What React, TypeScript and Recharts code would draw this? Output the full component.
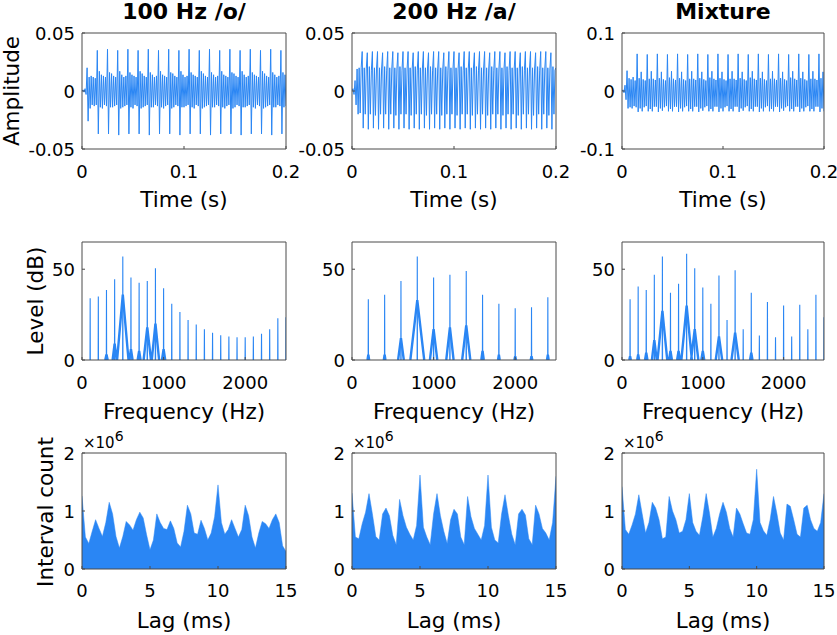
import React from 'react';
import { ComposedChart, Line, Area, XAxis, YAxis } from 'recharts';

const BLUE = '#2a86f4';
const AXIS_COLOR = '#4a4a4a';
const FONT = '"DejaVu Sans", Verdana, sans-serif';

const titles = ['100 Hz /o/', '200 Hz /a/', 'Mixture'];
const xLabels = ['Time (s)', 'Frequency (Hz)', 'Lag (ms)'];
const yLabels = ['Amplitude', 'Level (dB)', 'Interval count'];

// ---------- Row 1: waveforms (1 ms sample grid, amplitudes in thousandths) ----------
const wave100o = [
  0, 1, -1, 2, -3, 20, -26, 12, -15, 13, -12, 12, -13, 11, -12,
  35, -37, 17, -14, 14, -15, 13, -12, 12, -13,
  36, -37, 16, -14, 15, -14, 13, -13, 12, -12,
  35, -38, 17, -15, 14, -14, 12, -13, 13, -12,
  36, -37, 16, -14, 14, -15, 13, -12, 12, -13,
  35, -37, 17, -15, 15, -14, 13, -13, 12, -12,
  36, -38, 16, -14, 14, -14, 12, -12, 13, -13,
  35, -37, 17, -14, 14, -15, 13, -13, 12, -12,
  36, -37, 16, -15, 15, -14, 13, -12, 12, -13,
  35, -38, 17, -14, 14, -14, 12, -13, 13, -12,
  36, -37, 16, -14, 14, -15, 13, -12, 12, -13,
  35, -37, 17, -15, 15, -14, 13, -13, 12, -12,
  36, -38, 16, -14, 14, -14, 12, -12, 13, -13,
  35, -37, 17, -14, 14, -15, 13, -13, 12, -12,
  36, -37, 16, -15, 15, -14, 13, -12, 12, -13,
  35, -38, 17, -14, 14, -14, 12, -13, 13, -12,
  36, -37, 16, -14, 14, -15, 13, -12, 12, -13,
  35, -37, 17, -15, 15, -14, 13, -13, 12, -12,
  36, -38, 16, -14, 14, -14, 12, -12, 13, -13,
  35, -37, 16, -14, 14, -13,
];

const wave200a = [
  0, 2, -3, 9, -12, 19, -20, 20, -19, 20,
  34, -32, 20, -20, 19, 33, -33, 21, -20, 18,
  34, -32, 20, -21, 19, 34, -33, 20, -20, 19,
  33, -32, 21, -20, 18, 34, -33, 20, -20, 19,
  34, -32, 20, -21, 19, 33, -33, 21, -20, 18,
  34, -32, 20, -20, 19, 34, -33, 20, -21, 19,
  33, -32, 21, -20, 18, 34, -33, 20, -20, 19,
  34, -32, 20, -21, 19, 33, -33, 21, -20, 18,
  34, -32, 20, -20, 19, 34, -33, 20, -21, 19,
  33, -32, 21, -20, 18, 34, -33, 20, -20, 19,
  34, -32, 20, -21, 19, 33, -33, 21, -20, 18,
  34, -32, 20, -20, 19, 34, -33, 20, -21, 19,
  33, -32, 21, -20, 18, 34, -33, 20, -20, 19,
  34, -32, 20, -21, 19, 33, -33, 21, -20, 18,
  34, -32, 20, -20, 19, 34, -33, 20, -21, 19,
  33, -32, 21, -20, 18, 34, -33, 20, -20, 19,
  34, -32, 20, -21, 19, 33, -33, 21, -20, 18,
  34, -32, 20, -20, 19, 34, -33, 20, -21, 19,
  33, -32, 21, -20, 18, 34, -33, 20, -20, 19,
  34, -32, 20, -21, 19, 33, -33, 21, -20, 18,
  20,
];

const waveMix = [
  0, 2, -3, 10, -15, 35, -30, 22, -28, 20, -30, 24, -26, 18, -28,
  64, -36, 22, -30, 33, -35, 20, -28, 18, -26,
  63, -35, 21, -31, 34, -35, 21, -27, 19, -27,
  64, -36, 22, -30, 33, -34, 20, -28, 18, -26,
  63, -35, 23, -31, 34, -35, 21, -27, 19, -27,
  64, -36, 22, -30, 33, -35, 20, -28, 18, -26,
  63, -35, 21, -31, 34, -35, 21, -27, 19, -27,
  64, -36, 22, -30, 33, -34, 20, -28, 18, -26,
  63, -35, 23, -31, 34, -35, 21, -27, 19, -27,
  64, -36, 22, -30, 33, -35, 20, -28, 18, -26,
  63, -35, 21, -31, 34, -35, 21, -27, 19, -27,
  64, -36, 22, -30, 33, -34, 20, -28, 18, -26,
  63, -35, 23, -31, 34, -35, 21, -27, 19, -27,
  64, -36, 22, -30, 33, -35, 20, -28, 18, -26,
  63, -35, 21, -31, 34, -35, 21, -27, 19, -27,
  64, -36, 22, -30, 33, -34, 20, -28, 18, -26,
  63, -35, 23, -31, 34, -35, 21, -27, 19, -27,
  64, -36, 22, -30, 33, -35, 20, -28, 18, -26,
  63, -35, 21, -31, 34, -35, 21, -27, 19, -27,
  64, -36, 22, -30, 33, -35,
];

const timeTicks = [0, 0.1, 0.2];
const ampTicksSmall = [-0.05, 0, 0.05];
const ampTicksMix = [-0.1, 0, 0.1];

// ---------- Row 2: spectra (dB) ----------
const harmonics100 = [100, 200, 300, 400, 500, 600, 700, 800, 900, 1000, 1100, 1200, 1300, 1400, 1500, 1600, 1700, 1800, 1900, 2000, 2100, 2200, 2300, 2400, 2500];
const harmonics200 = [200, 400, 600, 800, 1000, 1200, 1400, 1600, 1800, 2000, 2200, 2400];

const levels100o = [34, 35, 38.5, 44.5, 57, 45.5, 42.5, 43.5, 50.5, 39.5, 31, 26.5, 22, 19.5, 17, 15, 13.7, 13, 12.5, 12.5, 13, 14.5, 17, 23, 23.5];
const levels200a = [33.5, 36, 43.5, 57, 45.5, 47, 49, 36, 31, 28.5, 29, 34.5];
const levelsMix = [33.5, 40.5, 38.5, 47, 57, 37, 42, 58.5, 50.5, 40, 31, 46.5, 22, 49.5, 17, 37, 13.5, 32, 12.5, 30, 13, 30.5, 17, 36, 23.5];

const lobeFreqs100o = [300, 400, 500, 600, 700, 800, 900, 1000];
const lobePeaks100o = [3, 9, 36, 6, 5, 18, 20, 6];
const lobeWidths100o = [15, 25, 70, 20, 18, 45, 45, 20];

const lobeFreqs200a = [200, 400, 600, 800, 1000, 1200, 1400, 1600, 1800, 2000, 2200, 2400];
const lobePeaks200a = [3, 3, 12, 33, 17, 18, 19, 5, 3, 2, 2, 3];
const lobeWidths200a = [10, 10, 35, 85, 45, 45, 50, 15, 10, 10, 10, 10];

const lobeFreqsMix = [100, 200, 300, 400, 500, 600, 700, 800, 900, 1000, 1200, 1400, 1600];
const lobePeaksMix = [2, 3, 4, 11, 27, 5, 5, 30, 17, 5, 13, 15, 4];
const lobeWidthsMix = [10, 12, 15, 30, 60, 18, 18, 65, 45, 18, 40, 45, 15];

const freqTicks = [0, 1000, 2000];
const levelTicks = [0, 50];

// ---------- Row 3: interval histograms (0.25 ms grid, counts in millions) ----------
const hist100o = [1.26, 0.55, 0.44, 0.65, 0.85, 0.70, 0.56, 0.80, 1.15, 0.95, 0.56, 0.36, 0.56, 0.82, 0.76, 0.67, 0.85, 0.98, 0.88, 0.59, 0.33, 0.50, 0.95, 0.80, 0.70, 0.68, 0.83, 0.70, 0.45, 0.38, 0.65, 1.10, 0.95, 0.62, 0.60, 0.84, 0.70, 0.50, 0.62, 0.90, 1.45, 0.80, 0.60, 0.68, 0.85, 0.70, 0.55, 0.68, 1.10, 0.92, 0.55, 0.36, 0.62, 0.82, 0.78, 0.70, 0.85, 0.95, 0.80, 0.40, 0.30];
const hist200a = [1.31, 0.55, 0.52, 0.78, 0.98, 1.30, 0.95, 0.56, 0.50, 0.95, 1.05, 0.92, 0.58, 0.42, 1.20, 0.92, 0.72, 0.60, 0.50, 0.75, 1.62, 0.72, 0.55, 0.42, 0.95, 1.30, 0.92, 0.65, 0.44, 0.85, 1.03, 0.95, 0.55, 0.42, 1.25, 0.90, 0.70, 0.60, 0.50, 0.75, 1.62, 0.72, 0.50, 0.45, 0.95, 1.28, 0.92, 0.60, 0.42, 0.95, 1.03, 0.93, 0.52, 0.42, 1.10, 0.95, 0.70, 0.62, 0.50, 0.80, 1.60];
const histMix = [1.42, 0.68, 0.60, 0.76, 0.95, 1.28, 0.95, 0.62, 0.80, 1.15, 1.05, 0.85, 0.52, 0.55, 1.25, 1.00, 0.85, 0.62, 0.65, 0.85, 1.30, 0.80, 0.65, 0.58, 0.90, 1.30, 0.96, 0.55, 0.70, 0.95, 1.15, 0.98, 0.70, 0.55, 1.05, 0.95, 0.78, 0.62, 0.60, 0.85, 1.72, 0.80, 0.66, 0.58, 0.85, 1.25, 0.96, 0.62, 0.50, 1.12, 1.08, 0.85, 0.60, 0.55, 1.05, 1.10, 0.85, 0.70, 0.65, 0.80, 1.30];
const lagTicks = [0, 5, 10, 15];
const countTicks = [0, 1, 2];

// ---------- builders ----------
type Pt = { x: number; y: number | null };
const waveData = (vals: number[]): Pt[] => vals.map((v, i) => ({ x: i / 1000, y: v / 1000 }));
const spikeData = (freqs: number[], levels: number[]): Pt[] =>
  freqs.flatMap((f, i) => [
    { x: f - 2, y: 0 },
    { x: f, y: levels[i] },
    { x: f + 2, y: 0 },
    { x: f + 2, y: null },
  ]);
const lobeData = (freqs: number[], peaks: number[], widths: number[]): Pt[] =>
  freqs.flatMap((f, i) => [
    { x: f - widths[i], y: 0 },
    { x: f, y: peaks[i] },
    { x: f + widths[i], y: 0 },
    { x: f + widths[i], y: null },
  ]);
const histData = (vals: number[]): Pt[] => vals.map((v, i) => ({ x: i * 0.25, y: v }));

// ---------- layout ----------
const colX = [82, 352, 622];
const colW = [204, 204, 202];
const rowY = [33, 242, 453];
const rowH = [116, 118, 116];
const tickBaseline = [29, 28.5, 28];

const L = 80;
const R = 10;
const RM = 20;
const T = 10;
const B = 45;

const fmt = (v: number) => String(v);

const makeXTick = (p: any) => (
  <text x={p.x} y={p.y} textAnchor="middle" fontFamily={FONT} fontSize={18} fill="#000">
    {fmt(p.payload.value)}
  </text>
);
const makeYTick = (p: any) => (
  <text x={p.x} y={p.y + 6.5} textAnchor="end" fontFamily={FONT} fontSize={18} fill="#000">
    {fmt(p.payload.value)}
  </text>
);

type PanelProps = {
  row: number;
  col: number;
  xDomain: [number, number];
  xTicks: number[];
  yDomain: [number, number];
  yTicks: number[];
  children: React.ReactNode;
};

function Panel({ row, col, xDomain, xTicks, yDomain, yTicks, children }: PanelProps) {
  const bx = colX[col];
  const by = rowY[row];
  const bw = colW[col];
  const bh = rowH[row];
  const frameData = [
    { x: xDomain[0], y: yDomain[0] },
    { x: xDomain[1], y: yDomain[1] },
  ];
  const axisLine = { stroke: AXIS_COLOR, strokeWidth: 1 };
  return (
    <div style={{ position: 'absolute', left: bx - L, top: by - T }}>
      <ComposedChart width={L + bw + R + RM} height={T + bh + B} margin={{ top: 0, right: RM, bottom: 0, left: 0 }}>
        <XAxis
          xAxisId="b"
          dataKey="x"
          type="number"
          domain={xDomain}
          ticks={xTicks}
          allowDataOverflow
          height={B}
          axisLine={axisLine}
          tickLine={axisLine}
          tickSize={-3}
          tickMargin={3 + tickBaseline[row]}
          tick={makeXTick}
          interval={0}
        />
        <XAxis
          xAxisId="t"
          orientation="top"
          dataKey="x"
          type="number"
          domain={xDomain}
          ticks={xTicks}
          allowDataOverflow
          height={T}
          axisLine={axisLine}
          tickLine={axisLine}
          tickSize={-3}
          tick={false}
          interval={0}
        />
        <YAxis
          yAxisId="l"
          type="number"
          domain={yDomain}
          ticks={yTicks}
          allowDataOverflow
          width={L}
          axisLine={axisLine}
          tickLine={axisLine}
          tickSize={-3}
          tickMargin={10}
          tick={makeYTick}
          interval={0}
        />
        <YAxis
          yAxisId="r"
          orientation="right"
          type="number"
          domain={yDomain}
          ticks={yTicks}
          allowDataOverflow
          width={R}
          axisLine={axisLine}
          tickLine={axisLine}
          tickSize={-3}
          tick={false}
          interval={0}
        />
        <Line
          data={frameData}
          xAxisId="t"
          yAxisId="r"
          dataKey="y"
          stroke="none"
          dot={false}
          activeDot={false}
          isAnimationActive={false}
        />
        {children}
      </ComposedChart>
    </div>
  );
}

const waveLine = (vals: number[]) => (
  <Line
    data={waveData(vals)}
    xAxisId="b"
    yAxisId="l"
    dataKey="y"
    type="linear"
    stroke={BLUE}
    strokeWidth={1}
    dot={false}
    activeDot={false}
    isAnimationActive={false}
  />
);

const spectrumLines = (freqs: number[], levels: number[], lf: number[], lp: number[], lw: number[]) => [
  <Line
    key="lobes"
    data={lobeData(lf, lp, lw)}
    xAxisId="b"
    yAxisId="l"
    dataKey="y"
    type="linear"
    stroke={BLUE}
    strokeWidth={2.4}
    dot={false}
    activeDot={false}
    connectNulls={false}
    isAnimationActive={false}
  />,
  <Line
    key="spikes"
    data={spikeData(freqs, levels)}
    xAxisId="b"
    yAxisId="l"
    dataKey="y"
    type="linear"
    stroke={BLUE}
    strokeWidth={1.1}
    dot={false}
    activeDot={false}
    connectNulls={false}
    isAnimationActive={false}
  />,
];

const histArea = (vals: number[]) => (
  <Area
    data={histData(vals)}
    xAxisId="b"
    yAxisId="l"
    dataKey="y"
    type="linear"
    stroke={BLUE}
    strokeWidth={0.5}
    fill={BLUE}
    fillOpacity={1}
    baseValue={0}
    dot={false}
    activeDot={false}
    isAnimationActive={false}
  />
);

export default function App() {
  const colCenter = (c: number) => colX[c] + colW[c] / 2;
  const xLabelBaseline = [206.5, 418.5, 628];
  const yLabelPos = [
    { x: 18.5, y: 91 },
    { x: 42.5, y: 301 },
    { x: 52.5, y: 512 },
  ];
  return (
    <div style={{ position: 'absolute', left: 0, top: 0, width: 837, height: 635, background: '#fff' }}>
      {/* Row 1 */}
      <Panel row={0} col={0} xDomain={[0, 0.2]} xTicks={timeTicks} yDomain={[-0.05, 0.05]} yTicks={ampTicksSmall}>
        {waveLine(wave100o)}
      </Panel>
      <Panel row={0} col={1} xDomain={[0, 0.2]} xTicks={timeTicks} yDomain={[-0.05, 0.05]} yTicks={ampTicksSmall}>
        {waveLine(wave200a)}
      </Panel>
      <Panel row={0} col={2} xDomain={[0, 0.2]} xTicks={timeTicks} yDomain={[-0.1, 0.1]} yTicks={ampTicksMix}>
        {waveLine(waveMix)}
      </Panel>
      {/* Row 2 */}
      <Panel row={1} col={0} xDomain={[0, 2500]} xTicks={freqTicks} yDomain={[0, 65]} yTicks={levelTicks}>
        {spectrumLines(harmonics100, levels100o, lobeFreqs100o, lobePeaks100o, lobeWidths100o)}
      </Panel>
      <Panel row={1} col={1} xDomain={[0, 2500]} xTicks={freqTicks} yDomain={[0, 65]} yTicks={levelTicks}>
        {spectrumLines(harmonics200, levels200a, lobeFreqs200a, lobePeaks200a, lobeWidths200a)}
      </Panel>
      <Panel row={1} col={2} xDomain={[0, 2500]} xTicks={freqTicks} yDomain={[0, 65]} yTicks={levelTicks}>
        {spectrumLines(harmonics100, levelsMix, lobeFreqsMix, lobePeaksMix, lobeWidthsMix)}
      </Panel>
      {/* Row 3 */}
      <Panel row={2} col={0} xDomain={[0, 15]} xTicks={lagTicks} yDomain={[0, 2]} yTicks={countTicks}>
        {histArea(hist100o)}
      </Panel>
      <Panel row={2} col={1} xDomain={[0, 15]} xTicks={lagTicks} yDomain={[0, 2]} yTicks={countTicks}>
        {histArea(hist200a)}
      </Panel>
      <Panel row={2} col={2} xDomain={[0, 15]} xTicks={lagTicks} yDomain={[0, 2]} yTicks={countTicks}>
        {histArea(histMix)}
      </Panel>

      <svg width={837} height={635} style={{ position: 'absolute', left: 0, top: 0, pointerEvents: 'none' }}>
        {titles.map((t, c) => (
          <text key={t} x={colCenter(c)} y={19} textAnchor="middle" fontFamily={FONT} fontWeight="bold" fontSize={22} fill="#000">
            {t}
          </text>
        ))}
        {xLabels.map((lab, r) =>
          [0, 1, 2].map((c) => (
            <text key={lab + c} x={colCenter(c)} y={xLabelBaseline[r]} textAnchor="middle" fontFamily={FONT} fontSize={21.5} fill="#000">
              {lab}
            </text>
          ))
        )}
        {yLabels.map((lab, r) => (
          <text
            key={lab}
            transform={`translate(${yLabelPos[r].x},${yLabelPos[r].y}) rotate(-90)`}
            textAnchor="middle"
            fontFamily={FONT}
            fontSize={21.5}
            fill="#000"
          >
            {lab}
          </text>
        ))}
        {[0, 1, 2].map((c) => (
          <text key={'exp' + c} x={colX[c] + 1} y={448} fontFamily={FONT} fontSize={15} fill="#000">
            {'\u00d710'}
            <tspan dy={-7} fontSize={14}>6</tspan>
          </text>
        ))}
      </svg>
    </div>
  );
}
